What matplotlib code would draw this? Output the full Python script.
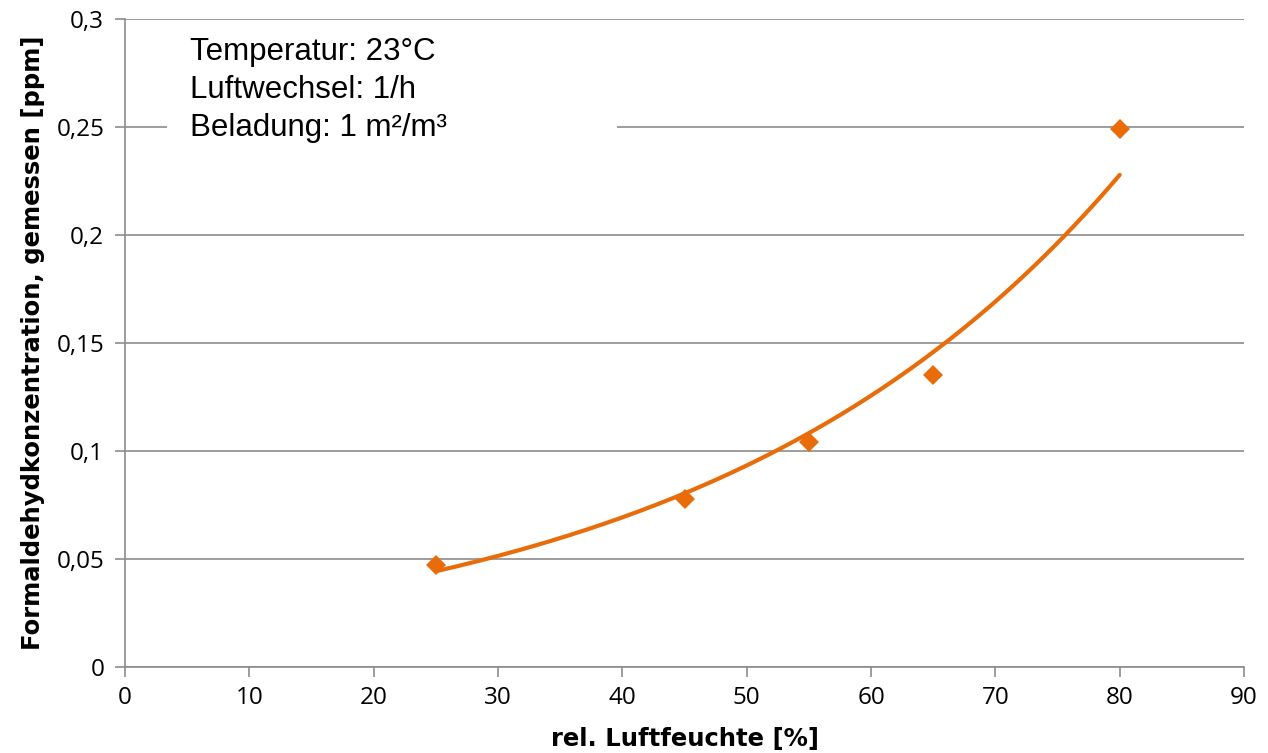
import numpy as np
import matplotlib

matplotlib.use("Agg")
import matplotlib.pyplot as plt
from matplotlib.patches import Rectangle

# measured points: relative humidity [%] vs. formaldehyde [ppm]
rel_humidity = [25, 45, 55, 65, 80]
formaldehyde = [0.047, 0.078, 0.104, 0.135, 0.249]

x_ticks = [0, 10, 20, 30, 40, 50, 60, 70, 80, 90]
y_ticks = [0, 0.05, 0.1, 0.15, 0.2, 0.25, 0.3]
y_ticklabels = ["0", "0,05", "0,1", "0,15", "0,2", "0,25", "0,3"]

conditions = ["Temperatur: 23°C", "Luftwechsel: 1/h", "Beladung: 1 m²/m³"]

ORANGE = "#E96C0A"
GRID = "#8C8C8C"

fig = plt.figure(figsize=(12.68, 7.53), dpi=100)
ax = fig.add_axes([0.0986, 0.1142, 0.8825, 0.8606])

# exponential trend line, fitted on log(y)
b, a = np.polyfit(rel_humidity, np.log(formaldehyde), 1)
xf = np.linspace(min(rel_humidity), max(rel_humidity), 200)
ax.plot(xf, np.exp(a + b * xf), color=ORANGE, lw=3.0, solid_capstyle="round", zorder=3)

ax.plot(rel_humidity, formaldehyde, "D", color=ORANGE, ms=10.5, mew=0, zorder=4)

ax.set_xlim(0, 90)
ax.set_ylim(0, 0.3)
ax.set_xticks(x_ticks)
ax.set_yticks(y_ticks)
ax.set_yticklabels(y_ticklabels)

ax.yaxis.grid(True, color=GRID, lw=1.2, zorder=0)
ax.set_axisbelow(True)
for side in ("top", "right"):
    ax.spines[side].set_visible(False)
for side in ("left", "bottom"):
    ax.spines[side].set_color(GRID)
    ax.spines[side].set_linewidth(1.2)
ax.tick_params(axis="both", colors=GRID, width=1.2, length=7, labelcolor="black",
               labelsize=17.5)
ax.tick_params(axis="y", pad=8)
ax.tick_params(axis="x", pad=7)
for lab in ax.get_xticklabels() + ax.get_yticklabels():
    lab.set_fontfamily("Open Sans")

ax.set_xlabel("rel. Luftfeuchte [%]", fontsize=17.5, fontweight="bold",
              family="DejaVu Sans", labelpad=12)
ax.set_ylabel("Formaldehydkonzentration, gemessen [ppm]", fontsize=17.5,
              fontweight="bold", family="DejaVu Sans", labelpad=8)

# white text box covering the grid behind the test conditions
ax.add_patch(Rectangle((0.0375, 0.78), 0.402, 0.195, transform=ax.transAxes,
                       facecolor="white", edgecolor="none", zorder=2))
for i, line in enumerate(conditions):
    ax.text(0.058, 0.949 - i * 0.0585, line, transform=ax.transAxes,
            fontsize=22.5, family="Liberation Sans", ha="left", va="center",
            zorder=5)

fig.savefig("out.png", dpi=100)
